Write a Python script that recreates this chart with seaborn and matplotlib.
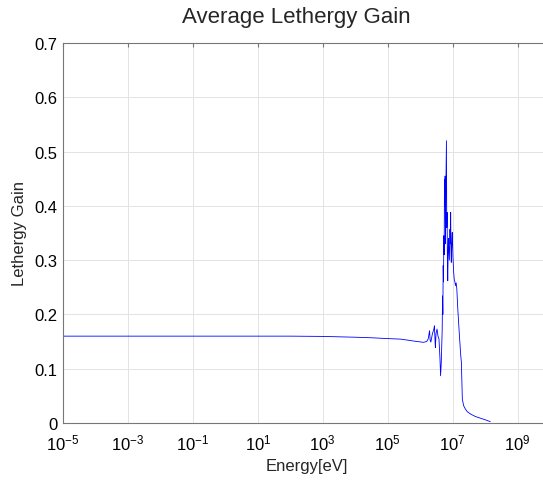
import numpy as np
import pandas as pd
import matplotlib
matplotlib.use("Agg")
import matplotlib.pyplot as plt
import seaborn as sns
from matplotlib.ticker import LogFormatterSciNotation, NullLocator

# log10 of energy [eV]
log_energy = [-5, -3, 0, 2, 3, 4, 4.5, 5.0, 5.4, 5.8, 6.1, 6.2, 6.25, 6.29, 6.31, 6.33,
              6.38, 6.42, 6.44, 6.46, 6.47, 6.49, 6.52, 6.55, 6.58, 6.61, 6.63, 6.65,
              6.68, 6.69, 6.70, 6.71, 6.72, 6.73, 6.74, 6.75, 6.76, 6.77, 6.78, 6.79,
              6.81, 6.82, 6.83, 6.84, 6.85, 6.87, 6.88, 6.90, 6.92, 6.93, 6.94, 6.95,
              6.96, 6.98, 6.99, 7.00, 7.01, 7.03, 7.05, 7.07, 7.09, 7.11, 7.13, 7.16,
              7.21, 7.25, 7.27, 7.30, 7.34, 7.39, 7.45, 7.54, 7.70, 7.85, 8.00, 8.16]
lethargy_gain = [0.160, 0.160, 0.160, 0.160, 0.1595, 0.158, 0.157, 0.1555, 0.1545, 0.151,
                 0.1486, 0.150, 0.155, 0.170, 0.152, 0.149, 0.165, 0.172, 0.179, 0.150,
                 0.139, 0.165, 0.173, 0.160, 0.155, 0.120, 0.087, 0.110, 0.173, 0.234,
                 0.200, 0.290, 0.260, 0.345, 0.310, 0.449, 0.400, 0.455, 0.330, 0.420,
                 0.520, 0.360, 0.388, 0.300, 0.262, 0.340, 0.327, 0.300, 0.357, 0.330,
                 0.388, 0.320, 0.296, 0.340, 0.351, 0.330, 0.308, 0.280, 0.265, 0.260,
                 0.253, 0.258, 0.247, 0.210, 0.161, 0.125, 0.112, 0.044, 0.032, 0.026,
                 0.021, 0.017, 0.012, 0.009, 0.006, 0.0025]

title = "Average Lethergy Gain"
xlabel = "Energy[eV]"
ylabel = "Lethergy Gain"

df = pd.DataFrame({"energy": 10.0 ** np.array(log_energy), "gain": lethargy_gain})

sns.set_style("white")
plt.rcParams["font.family"] = ["Liberation Sans", "DejaVu Sans"]
plt.rcParams["mathtext.fontset"] = "custom"
plt.rcParams["mathtext.rm"] = "Liberation Sans"
plt.rcParams["mathtext.it"] = "Liberation Sans"
plt.rcParams["mathtext.default"] = "regular"

fig = plt.figure(figsize=(5.43, 4.81), dpi=100)
ax = fig.add_axes([63 / 543, 57 / 481, (550 - 63) / 543, 380 / 481])

sns.lineplot(data=df, x="energy", y="gain", ax=ax, color="#0000ff", linewidth=0.6,
             estimator=None, sort=False)

ax.set_xscale("log")
ax.set_xlim(1e-5, 1e10)
ax.set_ylim(0, 0.7)
ax.set_xticks([10.0 ** k for k in range(-5, 10, 2)])
ax.xaxis.set_major_formatter(LogFormatterSciNotation())
ax.xaxis.set_minor_locator(NullLocator())
ax.set_yticks(np.arange(0, 0.71, 0.1))
ax.set_yticklabels(["0", "0.1", "0.2", "0.3", "0.4", "0.5", "0.6", "0.7"])

ax.grid(True, color="#e3e3e3", linewidth=0.7)
ax.set_axisbelow(True)
for s in ax.spines.values():
    s.set_color("#777777")
    s.set_linewidth(0.8)
ax.tick_params(direction="in", length=3, width=0.8, colors="#777777",
               labelcolor="black", labelsize=12, top=True, right=True, pad=4)
ax.tick_params(axis="x", pad=7)

fig.text(296 / 543, 1 - 18 / 481, title, fontsize=16, ha="center", va="center")
ax.set_xlabel(xlabel, fontsize=12, labelpad=4)
ax.set_ylabel(ylabel, fontsize=12, labelpad=5)

fig.savefig("out.png", dpi=100)
